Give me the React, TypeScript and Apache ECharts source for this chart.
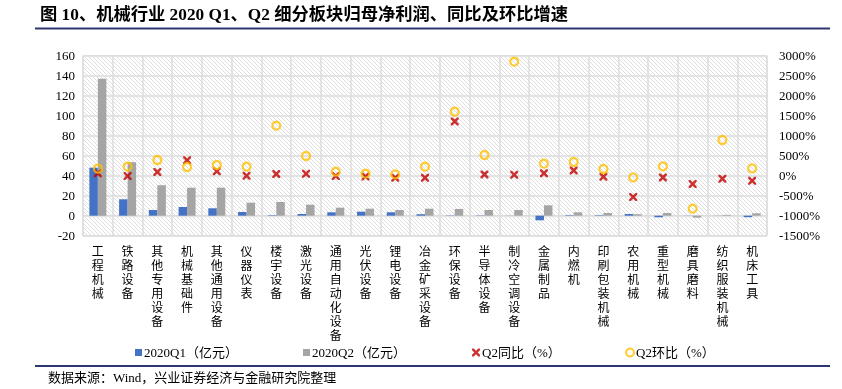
import React, { useEffect, useRef } from "react";
import * as echarts from "echarts";

const categories = [
  "工程机械", "铁路设备", "其他专用设备", "机械基础件", "其他通用设备", "仪器仪表",
  "楼宇设备", "激光设备", "通用自动化设备", "光伏设备", "锂电设备", "冶金矿采设备",
  "环保设备", "半导体设备", "制冷空调设备", "金属制品", "内燃机", "印刷包装机械",
  "农用机械", "重型机械", "磨具磨料", "纺织服装机械", "机床工具",
];
const q1Profit = [48, 16.4, 5.7, 8.7, 7.4, 3.7, 0.5, 1.7, 3.4, 4, 3.4, 1.5, 0.3, 0.3, 0.1, -4.6, 0.5, 0.5, 1.7, -1.6, 0.1, 0.1, -1.5];
const q2Profit = [137, 53.5, 30.5, 28, 28, 13, 13.7, 11, 8, 7, 5.7, 7, 6.7, 5.7, 5.7, 10.4, 3.4, 2.7, 1.5, 2.7, -2, 0.8, 2.4];
const q2Yoy = [60, -8, 92, 385, 110, 0, 42, 50, -8, -20, -50, -50, 1358, 33, 25, 60, 133, -25, -533, -42, -208, -75, -125];
const q2Qoq = [175, 225, 392, 217, 267, 225, 1250, 492, 100, 50, 33, 225, 1600, 517, 2850, 300, 342, 167, -42, 233, -825, 892, 183];

const leftTicks = { min: -20, max: 160, interval: 20 };
const rightTicks = { min: -1500, max: 3000, interval: 500 };

const names = ["2020Q1（亿元）", "2020Q2（亿元）", "Q2同比（%）", "Q2环比（%）"];

const FONT = "'Liberation Serif', 'Noto Sans CJK SC', serif";
const CROSS = "path://M0,0 L2.2,0 L5,2.8 L7.8,0 L10,0 L10,2.2 L7.2,5 L10,7.8 L10,10 L7.8,10 L5,7.2 L2.2,10 L0,10 L0,7.8 L2.8,5 L0,2.2 Z";

function makeHatch(): any {
  const c = document.createElement("canvas");
  c.width = 4;
  c.height = 4;
  const ctx = c.getContext("2d");
  if (ctx) {
    ctx.fillStyle = "#ffffff";
    ctx.fillRect(0, 0, 4, 4);
    ctx.strokeStyle = "#dedede";
    ctx.lineWidth = 1;
    ctx.beginPath();
    ctx.moveTo(0, 0); ctx.lineTo(4, 4);
    ctx.moveTo(-1, 3); ctx.lineTo(1, 5);
    ctx.moveTo(3, -1); ctx.lineTo(5, 1);
    ctx.stroke();
  }
  return { image: c, repeat: "repeat", imageWidth: 4, imageHeight: 4 };
}

export default function App() {
  const ref = useRef<HTMLDivElement>(null);
  useEffect(() => {
    if (!ref.current) return;
    const chart = echarts.init(ref.current, undefined, { renderer: "svg" });
    const legendLefts = [135, 303, 472, 625];
    const icons = ["rect", "rect", CROSS, "circle"];
    chart.setOption({
      animation: false,
      textStyle: { fontFamily: FONT },
      grid: {
        left: 83, right: 75, top: 55.7, bottom: 153.3,
        show: true,
        backgroundColor: makeHatch(),
        borderColor: "#dcdcdc", borderWidth: 1,
      },
      legend: names.map((n, i) => ({
        data: [{ name: n, icon: icons[i] }],
        left: legendLefts[i],
        top: 346,
        itemWidth: i >= 2 ? 8 : 7,
        itemHeight: i >= 2 ? 8 : 7,
        itemGap: 0,
        padding: 0,
        textStyle: { fontFamily: FONT, fontSize: 13, color: "#000", padding: [0, 0, 0, -3] },
      })),
      xAxis: {
        type: "category",
        data: categories,
        boundaryGap: true,
        axisLine: { show: true, lineStyle: { color: "#dcdcdc", width: 1 } },
        axisTick: { show: false },
        splitLine: { show: true, lineStyle: { color: "#dcdcdc", width: 1.5 } },
        axisLabel: {
          interval: 0,
          margin: 8,
          fontSize: 12,
          lineHeight: 14,
          color: "#000",
          fontFamily: "'Noto Sans CJK SC', sans-serif",
          formatter: (v: string) => v.split("").join("\n"),
        },
      },
      yAxis: [
        {
          type: "value",
          min: leftTicks.min, max: leftTicks.max, interval: leftTicks.interval,
          axisLine: { show: false },
          axisTick: { show: false },
          splitLine: { show: true, lineStyle: { color: "#dcdcdc", width: 1.5 } },
          axisLabel: { color: "#000", fontSize: 13, margin: 8, fontFamily: FONT },
        },
        {
          type: "value",
          min: rightTicks.min, max: rightTicks.max, interval: rightTicks.interval,
          axisLine: { show: false },
          axisTick: { show: false },
          splitLine: { show: false },
          axisLabel: {
            color: "#000", fontSize: 13, margin: 12, fontFamily: FONT,
            formatter: (v: number) => String(v) + "%",
          },
        },
      ],
      series: [
        {
          name: names[0], type: "bar", data: q1Profit, barWidth: 8.5, barGap: "0%",
          itemStyle: { color: "#4472C4" },
        },
        {
          name: names[1], type: "bar", data: q2Profit, barWidth: 8.5, barGap: "0%",
          itemStyle: { color: "#A5A5A5" },
        },
        {
          name: names[2], type: "scatter", yAxisIndex: 1, data: q2Yoy,
          symbol: CROSS, symbolSize: 8,
          itemStyle: { color: "#C00000" },
          z: 3,
        },
        {
          name: names[3], type: "scatter", yAxisIndex: 1, data: q2Qoq,
          symbol: "circle", symbolSize: 8,
          itemStyle: { color: "rgba(255,255,255,0)", borderColor: "#FFC000", borderWidth: 2.2 },
          z: 4,
        },
      ],
      graphic: [
        {
          type: "text", left: 40, top: 6,
          style: { text: "图 10、机械行业 2020 Q1、Q2 细分板块归母净利润、同比及环比增速", font: "bold 17.3px " + FONT, fill: "#000" },
        },
        { type: "line", shape: { x1: 35, y1: 28.5, x2: 830, y2: 28.5 }, style: { stroke: "#2E3670", lineWidth: 2 } },
        { type: "line", shape: { x1: 35, y1: 366, x2: 830, y2: 366 }, style: { stroke: "#2E3670", lineWidth: 2 } },
        {
          type: "text", left: 48, top: 371,
          style: { text: "数据来源：Wind，兴业证券经济与金融研究院整理", font: "13px " + FONT, fill: "#000" },
        },
      ],
    });
    return () => chart.dispose();
  }, []);
  return <div ref={ref} style={{ position: "fixed", left: 0, top: 0, width: 842, height: 389 }} />;
}
